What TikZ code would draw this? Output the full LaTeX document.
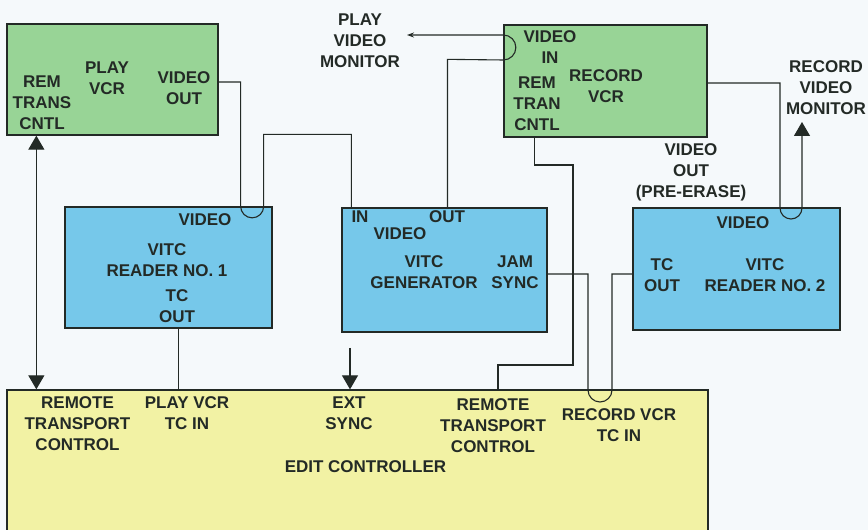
\documentclass[tikz,border=0pt]{standalone}
\usepackage{fontspec}
\setmainfont{Liberation Sans}
\usetikzlibrary{arrows.meta}
\definecolor{cBack}{RGB}{245,249,251}
\definecolor{cVcr}{RGB}{152,212,150}
\definecolor{cVitc}{RGB}{118,200,234}
\definecolor{cEdit}{RGB}{242,242,164}
\definecolor{cInk}{RGB}{35,42,38}
\tikzset{
  basebox/.style={rectangle, draw=cInk, line width=1.3pt, inner sep=0pt},
  vcrnode/.style={basebox, fill=cVcr, minimum width=207pt,
                  minimum height=112pt},
  vitcnode/.style={basebox, fill=cVitc, minimum width=206pt,
                   minimum height=122pt},
  editnode/.style={basebox, fill=cEdit, minimum width=701pt,
                   minimum height=150pt},
  lbl/.style={align=center, inner sep=0pt, text=cInk,
              font=\fontsize{17}{21}\selectfont\bfseries},
  wire/.style={draw=cInk, line width=1.1pt},
  bigarrow/.style={wire, -{Triangle[length=14pt, width=16pt]}},
  twoarrow/.style={wire, {Triangle[length=14pt, width=16pt]}-{Triangle[length=14pt, width=16pt]}},
  thinarrow/.style={wire, -{Stealth[length=7pt, width=5pt]}}
}
\begin{document}
\begin{tikzpicture}[x=1pt, y=1pt]

  \fill[cBack] (0,0) rectangle (868,530);
  \useasboundingbox (0,0) rectangle (868,530);

  % VCRs
  \node[vcrnode, minimum width=211pt, minimum height=111pt] (playvcr) at (112.5,450.5) {};
  \node[vcrnode, minimum width=203pt] (recvcr) at (605.5,449) {};

  % VITC units
  \node[vitcnode, minimum width=207pt, minimum height=121pt] (reader1) at (168.5,262.5) {};
  \node[vitcnode, minimum width=205pt, minimum height=124pt] (gen) at (444.5,260) {};
  \node[vitcnode, minimum width=207pt] (reader2) at (736.5,261) {};

  % Edit controller
  \node[editnode] (edit) at (357.5,65) {};

  % Labels
  \node[lbl] (remplay) at (42,427) {REM\\TRANS\\CNTL};
  \node[lbl] (playlbl) at (107,452) {PLAY\\VCR};
  \node[lbl] (vidout) at (184,442) {VIDEO\\OUT};
  \node[lbl] (pvmon) at (360,489) {PLAY\\VIDEO\\MONITOR};
  \node[lbl] (vidin) at (550,483) {VIDEO\\IN};
  \node[lbl] (remrec) at (537,426) {REM\\TRAN\\CNTL};
  \node[lbl] (reclbl) at (606,443.5) {RECORD\\VCR};
  \node[lbl] (rvmon) at (826,442) {RECORD\\VIDEO\\MONITOR};
  \node[lbl] (vopre) at (691,358) {VIDEO\\OUT\\(PRE-ERASE)};

  \node[lbl] (r1vid) at (205,310) {VIDEO};
  \node[lbl] (r1lbl) at (167,270) {VITC\\READER NO. 1};
  \node[lbl] (r1tc) at (177,224) {TC\\OUT};

  \node[lbl] (genin) at (360,313) {IN};
  \node[lbl] (genout) at (447,313) {OUT};
  \node[lbl] (genvid) at (400,296) {VIDEO};
  \node[lbl] (genlbl) at (424,257.5) {VITC\\GENERATOR};
  \node[lbl] (jam) at (515,257.5) {JAM\\SYNC};

  \node[lbl] (r2vid) at (743,307) {VIDEO};
  \node[lbl] (r2tc) at (662,255) {TC\\OUT};
  \node[lbl] (r2lbl) at (765,255) {VITC\\READER NO. 2};

  \node[lbl] (erem) at (77.5,106) {REMOTE\\TRANSPORT\\CONTROL};
  \node[lbl] (eplay) at (187,116.5) {PLAY VCR\\TC IN};
  \node[lbl] (eext) at (349,116.5) {EXT\\SYNC};
  \node[lbl] (ectl) at (365.5,63) {EDIT CONTROLLER};
  \node[lbl] (erem2) at (493,104) {REMOTE\\TRANSPORT\\CONTROL};
  \node[lbl] (erec) at (619,104.5) {RECORD VCR\\TC IN};

  % Free ends
  \coordinate (pvtip) at (407,495);
  \coordinate (rvtip) at (802,408);
  \coordinate (extsrc) at (350,182);
  \coordinate (r1tcp) at ([xshift=10pt]reader1.south);

  % Wires
  \draw[wire] (playvcr.east |- 0,448) -| ([xshift=-32pt]reader1.north east)
      arc[start angle=180, end angle=360, radius=11.5pt]
      -- ++(0,72) -| ([xshift=10pt]gen.north west);
  \draw[thinarrow] ([xshift=3pt]gen.north) -- ++(0,148) -- (recvcr.west |- 0,470)
      arc[start angle=-90, end angle=90, radius=12.5pt] -- (pvtip);
  \draw[wire] ([xshift=31pt]recvcr.south west) |- (573,365) |- (498,165)
      -- (498,165 |- edit.north);
  \draw[wire] (gen.east |- 0,256) -| (588,140)
      arc[start angle=180, end angle=360, radius=12pt] |- (reader2.west |- 0,256);
  \draw[bigarrow] (recvcr.east |- 0,447) -| (780,322)
      arc[start angle=180, end angle=360, radius=11pt] -- (rvtip);
  \draw[twoarrow] ([xshift=30pt]playvcr.south west) -- ([xshift=30pt]edit.north west);
  \draw[wire] (r1tcp) -- (r1tcp |- edit.north);
  \draw[bigarrow] (extsrc) -- (extsrc |- edit.north);

\end{tikzpicture}
\end{document}
